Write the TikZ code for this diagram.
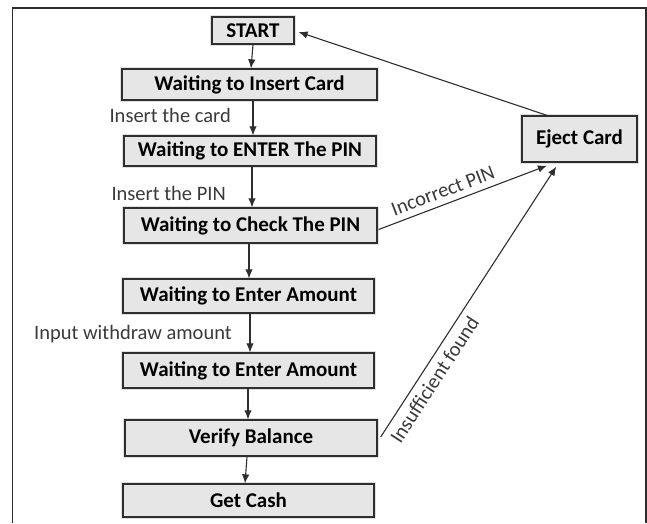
\documentclass[tikz,border=0pt]{standalone}
\usepackage{fontspec}
\setmainfont{Carlito}
\usetikzlibrary{calc,arrows.meta}
\definecolor{boxfill}{HTML}{E6E6E6}
\definecolor{ink}{HTML}{2E2E2E}
\definecolor{labelink}{HTML}{3A3A3A}
\tikzset{
  state/.style={draw=ink, line width=1.3pt, fill=boxfill, inner sep=0pt,
    font=\fontsize{21}{24}\selectfont\bfseries, text=black,
    preaction={draw=gray!70, line width=4.5pt, opacity=0.35}},
  arr/.style={draw=ink, line width=1.1pt, -{Latex[length=9pt,width=7.5pt]}},
  lbl/.style={font=\fontsize{20.5}{23}\selectfont, text=labelink, inner sep=0pt}
}
\begin{document}
\begin{tikzpicture}[x=1pt,y=-1pt]
  \useasboundingbox (0,0) rectangle (647,523);
  % open frame
  \draw[line width=1.2pt, ink] (12.5,523) -- (12.5,8) -- (646,8) -- (646,523);

  % states
  \node[state, minimum width=82pt, minimum height=27pt] (start) at (253,30.5) {START};
  \node[state, minimum width=255pt, minimum height=31pt] (card) at (249.5,84.5) {Waiting to Insert Card};
  \node[state, minimum width=252pt, minimum height=30pt] (enter) at (250,151) {Waiting to ENTER The PIN};
  \node[state, minimum width=253pt, minimum height=35pt] (check) at (250.5,225.5) {Waiting to Check The PIN};
  \node[state, minimum width=251pt, minimum height=34pt] (amt1) at (248.5,296) {Waiting to Enter Amount};
  \node[state, minimum width=251pt, minimum height=35pt] (amt2) at (248.5,370.5) {Waiting to Enter Amount};
  \node[state, minimum width=252pt, minimum height=36pt] (verify) at (251,438) {Verify Balance};
  \node[state, minimum width=251pt, minimum height=33pt] (cash) at (248.5,500.5) {Get Cash};
  \node[state, minimum width=115pt, minimum height=46pt] (eject) at (579.5,139) {Eject Card};

  % main flow
  \draw[arr] (start.south) -- ($(card.north)+(1.5,0)$);
  \draw[arr] ($(card.south)+(3.5,0)$) -- ($(enter.north)+(3,0)$);
  \draw[arr] ($(enter.south)+(2,0)$) -- ($(check.north)+(1.5,0)$);
  \draw[arr] ($(check.south)+(-1.5,0)$) -- ($(amt1.north)+(0.5,0)$);
  \draw[arr] ($(amt1.south)+(1.5,0)$) -- ($(amt2.north)+(1.5,0)$);
  \draw[arr] ($(amt2.south)+(-0.5,0)$) -- ($(verify.north)+(-3,0)$);
  \draw[arr] ($(verify.south)+(-4,0)$) -- ($(cash.north)+(-3.5,0)$);

  % labels on the main flow
  \node[lbl, anchor=east] (l1) at (231,115) {Insert the card};
  \node[lbl, anchor=east] (l2) at (226,193) {Insert the PIN};
  \node[lbl, anchor=east] (l3) at (232,334) {Input withdraw amount};

  % back to the card slot
  \draw[arr] ($(check.east)+(1,4)$) -- node[lbl, sloped, above=6pt, pos=0.41] {Incorrect PIN}
    ($(eject.south west)!0.22!(eject.south east)+(0,3)$);
  \draw[arr] ($(verify.east)+(3,-1)$) -- node[lbl, sloped, below=6pt, pos=0.24] {Insufficient found}
    ($(eject.south west)!0.30!(eject.south east)+(0,4)$);
  \draw[arr] ($(eject.north west)!0.22!(eject.north east)$) -- ($(start.east)+(4,1.5)$);
\end{tikzpicture}
\end{document}
